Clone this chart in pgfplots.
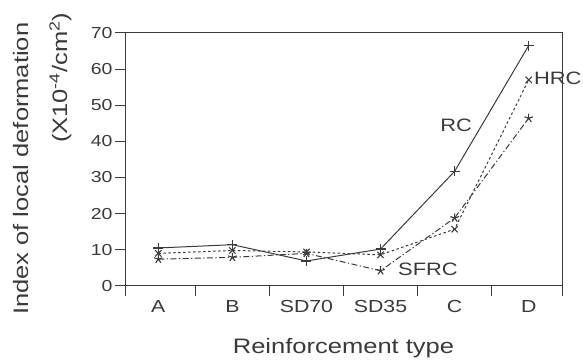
\documentclass[border=0pt]{standalone}
\usepackage{pgfplots}
\pgfplotsset{compat=1.18}
\usepackage{fontspec}
\setmainfont[FakeStretch=1.22]{Liberation Sans}
\definecolor{ink}{HTML}{3A3A3A}
\begin{document}
\begin{tikzpicture}
\begin{axis}[
  scale only axis, width=437bp, height=253bp,
  xmin=-0.45, xmax=5.45, ymin=0, ymax=70,
  axis line style={ink, line width=0.9pt},
  xtick={0,1,2,3,4,5},
  xticklabels={A,B,SD70,SD35,C,D},
  major x tick style={draw=none},
  minor xtick={-0.45,0.5,1.5,2.5,3.5,4.5,5.45},
  minor tick length=10bp,
  minor x tick style={ink, line width=0.9pt},
  xtick pos=bottom, ytick pos=left,
  tick align=outside,
  ytick={0,10,...,70},
  major tick length=10bp,
  major y tick style={ink, line width=0.9pt},
  /pgf/number format/assume math mode=true,
  ticklabel style={text=ink},
  yticklabel style={font=\fontsize{16}{19}\selectfont, xshift=1bp},
  xticklabel style={font=\fontsize{17.5}{20}\selectfont, yshift=-1bp},
  label style={font=\fontsize{21}{25}\selectfont, text=ink},
  xlabel={Reinforcement type},
  ylabel={Index of local deformation\\[14bp](X10\textsuperscript{-4}/cm\textsuperscript{2})\hspace*{-10bp}},
  ylabel style={align=right, at={(axis description cs:-0.122,0.463)}, anchor=south, inner sep=0pt},
  xlabel style={at={(axis description cs:0.5,-0.205)}, anchor=north, inner sep=0pt},
  clip=false,
]
\addplot[ink, line width=1pt, mark=+, mark size=5pt, mark options={solid, line width=1.1pt}]
  coordinates {(0,10.5) (1,11.4) (2,6.9) (3,10.2) (4,31.7) (5,66.5)};
\addplot[ink, line width=1pt, dash pattern=on 2.5pt off 2.5pt, mark=x, mark size=4.5pt, mark options={solid, line width=1.1pt}]
  coordinates {(0,9.0) (1,9.8) (2,9.4) (3,8.6) (4,15.7) (5,57.0)};
\addplot[ink, line width=1pt, dash pattern=on 6pt off 2.5pt on 1.2pt off 2.5pt, mark=star, mark size=4.5pt, mark options={solid, line width=1.1pt}]
  coordinates {(0,7.4) (1,7.9) (2,9.0) (3,4.2) (4,18.8) (5,46.4)};
\node[text=ink, font=\fontsize{18}{20}\selectfont] at (axis cs:4.02,44.5) {RC};
\node[text=ink, font=\fontsize{18}{20}\selectfont, anchor=west, inner sep=0pt] at (axis cs:5.07,57.3) {HRC};
\node[text=ink, font=\fontsize{18}{20}\selectfont] at (axis cs:3.64,4.6) {SFRC};
\path (rel axis cs:-0.286,-0.304) rectangle (rel axis cs:1.048,1.13);
\end{axis}
\end{tikzpicture}
\end{document}
